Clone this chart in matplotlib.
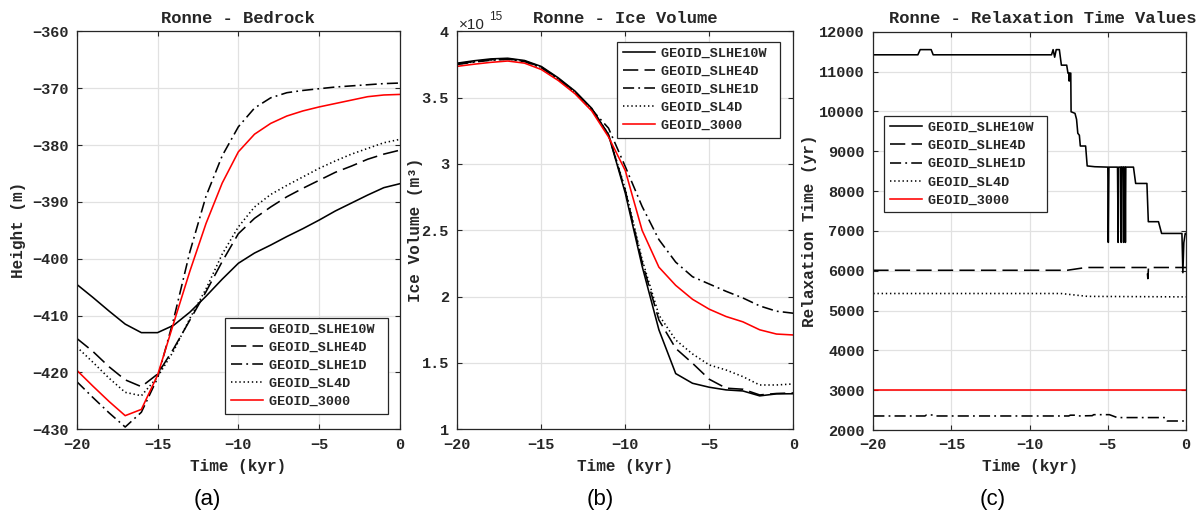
import matplotlib
matplotlib.use("Agg")
import matplotlib.pyplot as plt
from matplotlib.ticker import FuncFormatter, MultipleLocator

# ---------------- data ----------------
time_kyr = list(range(-20, 1))
series_names = ["GEOID_SLHE10W", "GEOID_SLHE4D", "GEOID_SLHE1D", "GEOID_SL4D", "GEOID_3000"]

bedrock_slhe10w = [-404.5, -406.8, -409.2, -411.5, -413.0, -413.0, -411.7, -409.4, -406.6, -403.6, -400.8,
                   -399.0, -397.6, -396.1, -394.7, -393.2, -391.6, -390.2, -388.8, -387.5, -386.8]
bedrock_slhe4d = [-414.0, -416.3, -419.0, -421.3, -422.5, -420.3, -415.8, -410.8, -405.8, -400.5, -395.6,
                  -392.9, -390.9, -389.1, -387.6, -386.2, -384.8, -383.7, -382.5, -381.6, -380.9]
bedrock_slhe1d = [-421.6, -424.4, -427.1, -429.6, -427.0, -421.0, -410.6, -398.8, -389.0, -381.9, -376.8,
                  -373.5, -371.7, -370.8, -370.4, -370.1, -369.8, -369.6, -369.4, -369.2, -369.1]
bedrock_sl4d = [-415.5, -418.2, -421.0, -423.5, -424.1, -420.8, -416.2, -410.5, -405.3, -399.2, -394.4,
                -390.9, -388.7, -387.1, -385.6, -384.1, -382.8, -381.6, -380.6, -379.6, -379.0]
bedrock_3000 = [-419.6, -422.4, -425.1, -427.6, -426.5, -420.5, -411.3, -402.2, -393.8, -386.7, -381.2,
                -378.1, -376.2, -374.9, -374.0, -373.3, -372.7, -372.1, -371.5, -371.2, -371.1]

# ice volume in units of 1e15 m^3
ice_scale = 1e15
ice_slhe10w = [3.760, 3.778, 3.792, 3.797, 3.780, 3.735, 3.650, 3.550, 3.420, 3.220, 2.780,
               2.230, 1.750, 1.420, 1.347, 1.317, 1.297, 1.289, 1.252, 1.267, 1.268]
ice_slhe4d = [3.755, 3.772, 3.786, 3.792, 3.776, 3.730, 3.645, 3.545, 3.415, 3.220, 2.800,
              2.260, 1.824, 1.610, 1.498, 1.377, 1.310, 1.302, 1.259, 1.270, 1.274]
ice_slhe1d = [3.750, 3.768, 3.782, 3.788, 3.772, 3.725, 3.640, 3.540, 3.410, 3.270, 2.980,
              2.680, 2.430, 2.260, 2.150, 2.095, 2.040, 1.990, 1.930, 1.890, 1.875]
ice_sl4d = [3.752, 3.770, 3.784, 3.790, 3.774, 3.728, 3.642, 3.542, 3.412, 3.225, 2.810,
            2.280, 1.861, 1.673, 1.568, 1.485, 1.447, 1.397, 1.334, 1.334, 1.342]
ice_3000 = [3.736, 3.752, 3.766, 3.776, 3.760, 3.712, 3.630, 3.530, 3.400, 3.204, 2.950,
            2.500, 2.222, 2.085, 1.980, 1.905, 1.850, 1.810, 1.750, 1.718, 1.711]

# relaxation time series (time in kyr, value in yr)
relax_t_slhe10w = [-20, -17.15, -17.0, -16.3, -16.17, -8.6, -8.5, -8.4, -8.3, -8.1, -7.97, -7.63,
                   -7.55, -7.5, -7.47, -7.45, -7.37, -7.35, -7.1, -7.0, -6.92, -6.82, -6.76, -6.42,
                   -6.32, -5.83, -5.0, -4.97, -4.93, -4.38, -4.34, -4.30, -4.17, -4.145, -4.12,
                   -4.02, -3.995, -3.97, -3.90, -3.875, -3.85, -3.36, -3.22, -2.50, -2.41, -1.76, -1.56,
                   -0.26, -0.20, -0.14, -0.05, 0]
relax_v_slhe10w = [11420, 11420, 11550, 11550, 11420, 11420, 11550, 11360, 11550, 11550, 11160, 11160,
                   10960, 10960, 10760, 10960, 10960, 9990, 9950, 9800, 9450, 9400, 9130, 9130,
                   8630, 8610, 8600, 6710, 8600, 8600, 6710, 8600, 8600, 6710, 8600,
                   8600, 6710, 8600, 8600, 6710, 8600, 8600, 8190, 8190, 7230, 7230, 6935,
                   6935, 5950, 6700, 6935, 6935]
relax_t_slhe4d = [-20, -7.6, -6.4, -2.5, -2.44, -2.40, 0]
relax_v_slhe4d = [6010, 6010, 6080, 6080, 5800, 6080, 6080]
relax_t_slhe1d = [-20, -16.7, -16.6, -16.2, -16.1, -7.5, -7.4, -7.1, -7.0, -6.0, -5.9, -4.9, -4.4,
                  -1.3, -1.2, 0]
relax_v_slhe1d = [2352, 2352, 2377, 2377, 2352, 2352, 2372, 2372, 2352, 2360, 2385, 2385, 2312,
                  2312, 2226, 2226]
relax_t_sl4d = [-20, -8.0, -6.3, 0]
relax_v_sl4d = [5427, 5427, 5355, 5342]
relax_t_3000 = [-20, 0]
relax_v_3000 = [3000, 3000]

# ---------------- style ----------------
plt.rcParams['lines.scale_dashes'] = False
MONO = "Liberation Mono"
SANS = "Liberation Sans"
INK = "#262626"
styles = [
    dict(color="black", linestyle="-"),
    dict(color="black", linestyle=(0, (11.0, 4.5))),
    dict(color="black", linestyle=(0, (8.0, 3.0, 1.3, 3.0))),
    dict(color="black", linestyle=(0, (1.0, 2.0))),
    dict(color="red", linestyle="-"),
]
LW = 1.15

fig = plt.figure(figsize=(12.0, 5.18), dpi=100)
W, H = 1200.0, 518.0


def add_axes(l, r, t, b):
    return fig.add_axes([l / W, 1 - b / H, (r - l) / W, (b - t) / H])


def style_axes(ax):
    ax.grid(True, color="#e1e1e1", linewidth=0.9)
    ax.set_axisbelow(True)
    for s in ax.spines.values():
        s.set_color(INK)
        s.set_linewidth(0.9)
    ax.tick_params(direction="in", length=3.5, width=0.8, color=INK, top=True, right=True,
                   labelsize=11, labelcolor=INK, pad=6)
    for lab in ax.get_xticklabels() + ax.get_yticklabels():
        lab.set_fontfamily(MONO)
        lab.set_fontweight("bold")


def legend(ax, x, y, handles=None):
    kw = dict(loc="upper left", bbox_to_anchor=(x / W, 1 - y / H), bbox_transform=fig.transFigure,
              prop=dict(family=MONO, weight="bold", size=9.7), frameon=True, fancybox=False,
              edgecolor=INK, framealpha=1, borderaxespad=0, handlelength=2.4, handletextpad=0.4,
              labelspacing=0.42, borderpad=0.42)
    labels = [n + " " for n in series_names]
    if handles is None:
        handles = ax.get_lines()[:5]
    leg = ax.legend(handles, labels, **kw)
    leg.get_frame().set_linewidth(0.9)
    for t in leg.get_texts():
        t.set_color(INK)
    return leg


title_kw = dict(fontfamily=MONO, fontweight="bold", fontsize=12.3, color=INK, pad=6)
label_kw = dict(fontfamily=MONO, fontweight="bold", fontsize=11.5, color=INK)

# ---- (a) bedrock ----
ax1 = add_axes(76.7, 400, 31.3, 429.3)
for name, vals, st in zip(series_names,
                          [bedrock_slhe10w, bedrock_slhe4d, bedrock_slhe1d, bedrock_sl4d, bedrock_3000], styles):
    ax1.plot(time_kyr, vals, label=name, linewidth=LW, **st)
ax1.set_xlim(-20, 0)
ax1.set_ylim(-430, -360)
ax1.xaxis.set_major_locator(MultipleLocator(5))
ax1.yaxis.set_major_locator(MultipleLocator(10))
style_axes(ax1)
ax1.set_title("Ronne - Bedrock", **title_kw)
ax1.set_xlabel("Time (kyr)", labelpad=5, **label_kw)
ax1.set_ylabel("Height (m)", labelpad=4, **label_kw)
legend(ax1, 225.3, 317.7)

# ---- (b) ice volume ----
ax2 = add_axes(457.3, 793.3, 31.3, 429.3)
for name, vals, st in zip(series_names, [ice_slhe10w, ice_slhe4d, ice_slhe1d, ice_sl4d, ice_3000], styles):
    ax2.plot(time_kyr, [v * ice_scale for v in vals], label=name, linewidth=LW, **st)
ax2.set_xlim(-20, 0)
ax2.set_ylim(1 * ice_scale, 4 * ice_scale)
ax2.xaxis.set_major_locator(MultipleLocator(5))
ax2.yaxis.set_major_locator(MultipleLocator(0.5 * ice_scale))
ax2.yaxis.set_major_formatter(FuncFormatter(lambda v, p: f"{v / ice_scale:g}"))
style_axes(ax2)
ax2.set_title("Ronne - Ice Volume", **title_kw)
ax2.set_xlabel("Time (kyr)", labelpad=5, **label_kw)
ax2.set_ylabel("Ice Volume (m\u00b3)", labelpad=-1, **label_kw)
fig.text(459 / W, 1 - 29 / H, "\u00d710", fontfamily=SANS, fontsize=11, color=INK, ha="left", va="baseline")
fig.text(489 / W, 1 - 20 / H, "15", fontfamily=SANS, fontsize=8.5, color=INK, ha="left", va="baseline")
legend(ax2, 617.3, 41.7)

# ---- (c) relaxation time ----
ax3 = add_axes(873.3, 1186, 31.7, 430)
relax_sets = [(relax_t_slhe10w, relax_v_slhe10w), (relax_t_slhe4d, relax_v_slhe4d),
              (relax_t_slhe1d, relax_v_slhe1d), (relax_t_sl4d, relax_v_sl4d), (relax_t_3000, relax_v_3000)]
order = [1, 2, 3, 4, 0]
lines = {}
for i in order:
    tt, vv = relax_sets[i]
    ln, = ax3.plot(tt, vv, label=series_names[i], linewidth=LW, **styles[i])
    lines[i] = ln
ax3.set_xlim(-20, 0)
ax3.set_ylim(2000, 12000)
ax3.xaxis.set_major_locator(MultipleLocator(5))
ax3.yaxis.set_major_locator(MultipleLocator(1000))
style_axes(ax3)
ax3.set_title("Ronne - Relaxation Time Values", x=(1043 - 873.3) / (1186 - 873.3), **title_kw)
ax3.set_xlabel("Time (kyr)", labelpad=5, **label_kw)
ax3.set_ylabel("Relaxation Time (yr)", labelpad=2, **label_kw)
legend(ax3, 884.3, 116, handles=[lines[i] for i in range(5)])

# panel labels
for x, s in [(207, "(a)"), (600, "(b)"), (993, "(c)")]:
    fig.text(x / W, 1 - 500 / H, s, fontfamily=SANS, fontsize=16, color="black", ha="center", va="center")

fig.savefig("out.png", dpi=100)
